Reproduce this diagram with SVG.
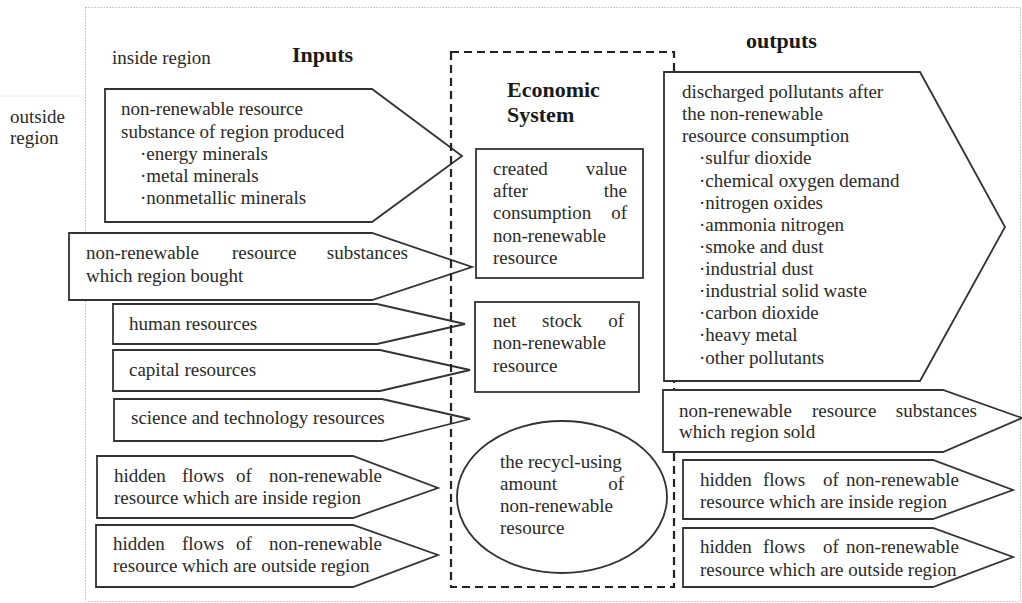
<svg xmlns="http://www.w3.org/2000/svg" width="1022" height="603" viewBox="0 0 1022 603">
<style>
text{font-family:"Liberation Serif","Times New Roman",serif;font-size:19px;fill:#2a2a2a}
.h{font-weight:bold;font-size:22px;fill:#1a1a1a}
.e{text-anchor:end}
.shape{fill:#fff;stroke:#333;stroke-width:1.8}
.frame{fill:none;stroke:#bbb;stroke-width:1;stroke-dasharray:1.5 1.5}
.dash{fill:none;stroke:#222;stroke-width:2.2;stroke-dasharray:8 5}
</style>
<rect width="1022" height="603" fill="#fff"/>
<rect class="frame" x="85.5" y="7.5" width="935" height="594"/>
<line x1="0" y1="96" x2="82" y2="96" stroke="#eee" stroke-width="1"/>
<g id="labels">
<text x="10" y="123">outside</text>
<text x="10" y="144">region</text>
<text x="112" y="64">inside region</text>
<text class="h" x="292" y="62">Inputs</text>
<text class="h" x="746" y="48">outputs</text>
</g>
<g id="in1">
<polygon class="shape" points="105,89 372,89 462,156 372,222 105,222"/>
<text x="121" y="115">non-renewable resource</text>
<text x="121" y="138">substance of region produced</text>
<text x="140" y="160">·energy minerals</text>
<text x="140" y="182">·metal minerals</text>
<text x="140" y="204">·nonmetallic minerals</text>
</g>
<g id="in2">
<polygon class="shape" points="69,233 372,233 472,267 372,300 69,300"/>
<text x="86" y="259">non-renewable</text>
<text x="232" y="259">resource</text>
<text class="e" x="408" y="259">substances</text>
<text x="86" y="282">which region bought</text>
</g>
<g id="in3">
<polygon class="shape" points="113,304 377,304 465,324 377,344 113,344"/>
<text x="129" y="330">human resources</text>
</g>
<g id="in4">
<polygon class="shape" points="113,350 380,350 470,370 380,391 113,391"/>
<text x="129" y="376">capital resources</text>
</g>
<g id="in5">
<polygon class="shape" points="114,399 382,399 470,419 382,441 114,441"/>
<text x="131" y="424">science and technology resources</text>
</g>
<g id="in6">
<polygon class="shape" points="97,456 353,456 438,488 353,518 97,518"/>
<text x="114" y="482">hidden</text>
<text x="182" y="482">flows</text>
<text x="236" y="482">of</text>
<text class="e" x="382" y="482">non-renewable</text>
<text x="114" y="504">resource which are inside region</text>
</g>
<g id="in7">
<polygon class="shape" points="96,525 353,525 438,555 353,587 96,587"/>
<text x="113" y="550">hidden</text>
<text x="182" y="550">flows</text>
<text x="236" y="550">of</text>
<text class="e" x="382" y="550">non-renewable</text>
<text x="113" y="572">resource which are outside region</text>
</g>
<g id="economic-system">
<rect class="dash" x="451" y="52" width="223" height="535"/>
<text class="h" x="507" y="97">Economic</text>
<text class="h" x="507" y="122">System</text>
</g>
<g id="created-value">
<rect class="shape" x="476" y="149" width="167" height="129"/>
<text x="493" y="175">created</text>
<text class="e" x="627" y="175">value</text>
<text x="493" y="197">after</text>
<text class="e" x="627" y="197">the</text>
<text x="493" y="219">consumption</text>
<text class="e" x="627" y="219">of</text>
<text x="493" y="242">non-renewable</text>
<text x="493" y="264">resource</text>
</g>
<g id="net-stock">
<rect class="shape" x="475" y="302" width="164" height="90"/>
<text x="493" y="327">net</text>
<text x="542" y="327">stock</text>
<text class="e" x="624" y="327">of</text>
<text x="493" y="349">non-renewable</text>
<text x="493" y="372">resource</text>
</g>
<g id="recycl">
<ellipse class="shape" cx="562" cy="497" rx="105" ry="76"/>
<text x="500" y="468">the recycl-using</text>
<text x="500" y="490">amount</text>
<text class="e" x="624" y="490">of</text>
<text x="500" y="512">non-renewable</text>
<text x="500" y="534">resource</text>
</g>
<g id="out1">
<polygon class="shape" points="664,72 920,72 1005,227 920,381 664,381"/>
<text x="682" y="98">discharged pollutants after</text>
<text x="682" y="120">the non-renewable</text>
<text x="682" y="142">resource consumption</text>
<text x="699" y="164">·sulfur dioxide</text>
<text x="699" y="187">·chemical oxygen demand</text>
<text x="699" y="209">·nitrogen oxides</text>
<text x="699" y="231">·ammonia nitrogen</text>
<text x="699" y="253">·smoke and dust</text>
<text x="699" y="275">·industrial dust</text>
<text x="699" y="297">·industrial solid waste</text>
<text x="699" y="319">·carbon dioxide</text>
<text x="699" y="341">·heavy metal</text>
<text x="699" y="364">·other pollutants</text>
</g>
<g id="out2">
<polygon class="shape" points="663,390 943,390 1022,418 943,452 663,452"/>
<text x="679" y="417">non-renewable</text>
<text x="812" y="417">resource</text>
<text class="e" x="977" y="417">substances</text>
<text x="679" y="438">which region sold</text>
</g>
<g id="out3">
<polygon class="shape" points="683,460 933,460 1013,490 933,519 683,519"/>
<text x="700" y="486">hidden</text>
<text x="763" y="486">flows</text>
<text x="823" y="486">of</text>
<text class="e" x="959" y="486">non-renewable</text>
<text x="700" y="508">resource which are inside region</text>
</g>
<g id="out4">
<polygon class="shape" points="683,528 933,528 1013,557 933,587 683,587"/>
<text x="700" y="553">hidden</text>
<text x="763" y="553">flows</text>
<text x="823" y="553">of</text>
<text class="e" x="959" y="553">non-renewable</text>
<text x="700" y="576">resource which are outside region</text>
</g>
<g id="connectors"></g>
</svg>
